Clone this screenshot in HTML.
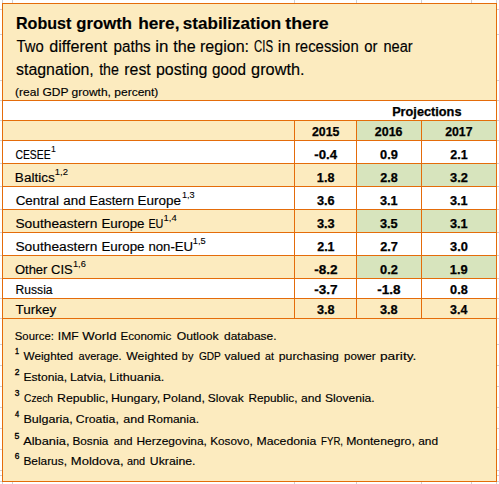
<!DOCTYPE html>
<html><head><meta charset="utf-8"><style>
html,body{margin:0;padding:0;background:#fff;}
body{width:499px;height:484px;overflow:hidden;position:relative;font-family:"Liberation Sans", sans-serif;}
</style></head><body>
<div style="position:absolute;left:2px;top:0px;width:1px;height:3px;background:#D0D0D4"></div>
<div style="position:absolute;left:2px;top:482px;width:1px;height:2px;background:#D0D0D4"></div>
<div style="position:absolute;left:12px;top:0px;width:1px;height:3px;background:#D0D0D4"></div>
<div style="position:absolute;left:12px;top:482px;width:1px;height:2px;background:#D0D0D4"></div>
<div style="position:absolute;left:294px;top:0px;width:1px;height:3px;background:#D0D0D4"></div>
<div style="position:absolute;left:294px;top:482px;width:1px;height:2px;background:#D0D0D4"></div>
<div style="position:absolute;left:356px;top:0px;width:1px;height:3px;background:#D0D0D4"></div>
<div style="position:absolute;left:356px;top:482px;width:1px;height:2px;background:#D0D0D4"></div>
<div style="position:absolute;left:421px;top:0px;width:1px;height:3px;background:#D0D0D4"></div>
<div style="position:absolute;left:421px;top:482px;width:1px;height:2px;background:#D0D0D4"></div>
<div style="position:absolute;left:471px;top:0px;width:1px;height:3px;background:#D0D0D4"></div>
<div style="position:absolute;left:471px;top:482px;width:1px;height:2px;background:#D0D0D4"></div>
<div style="position:absolute;left:496px;top:0px;width:1px;height:3px;background:#D0D0D4"></div>
<div style="position:absolute;left:496px;top:482px;width:1px;height:2px;background:#D0D0D4"></div>
<div style="position:absolute;left:0px;top:9px;width:2px;height:1px;background:#D0D0D4"></div>
<div style="position:absolute;left:497px;top:9px;width:2px;height:1px;background:#D0D0D4"></div>
<div style="position:absolute;left:0px;top:34px;width:2px;height:1px;background:#D0D0D4"></div>
<div style="position:absolute;left:497px;top:34px;width:2px;height:1px;background:#D0D0D4"></div>
<div style="position:absolute;left:0px;top:80px;width:2px;height:1px;background:#D0D0D4"></div>
<div style="position:absolute;left:497px;top:80px;width:2px;height:1px;background:#D0D0D4"></div>
<div style="position:absolute;left:0px;top:100px;width:2px;height:1px;background:#D0D0D4"></div>
<div style="position:absolute;left:497px;top:100px;width:2px;height:1px;background:#D0D0D4"></div>
<div style="position:absolute;left:0px;top:120px;width:2px;height:1px;background:#D0D0D4"></div>
<div style="position:absolute;left:497px;top:120px;width:2px;height:1px;background:#D0D0D4"></div>
<div style="position:absolute;left:0px;top:140px;width:2px;height:1px;background:#D0D0D4"></div>
<div style="position:absolute;left:497px;top:140px;width:2px;height:1px;background:#D0D0D4"></div>
<div style="position:absolute;left:0px;top:163px;width:2px;height:1px;background:#D0D0D4"></div>
<div style="position:absolute;left:497px;top:163px;width:2px;height:1px;background:#D0D0D4"></div>
<div style="position:absolute;left:0px;top:186px;width:2px;height:1px;background:#D0D0D4"></div>
<div style="position:absolute;left:497px;top:186px;width:2px;height:1px;background:#D0D0D4"></div>
<div style="position:absolute;left:0px;top:209px;width:2px;height:1px;background:#D0D0D4"></div>
<div style="position:absolute;left:497px;top:209px;width:2px;height:1px;background:#D0D0D4"></div>
<div style="position:absolute;left:0px;top:232px;width:2px;height:1px;background:#D0D0D4"></div>
<div style="position:absolute;left:497px;top:232px;width:2px;height:1px;background:#D0D0D4"></div>
<div style="position:absolute;left:0px;top:255px;width:2px;height:1px;background:#D0D0D4"></div>
<div style="position:absolute;left:497px;top:255px;width:2px;height:1px;background:#D0D0D4"></div>
<div style="position:absolute;left:0px;top:278px;width:2px;height:1px;background:#D0D0D4"></div>
<div style="position:absolute;left:497px;top:278px;width:2px;height:1px;background:#D0D0D4"></div>
<div style="position:absolute;left:0px;top:298px;width:2px;height:1px;background:#D0D0D4"></div>
<div style="position:absolute;left:497px;top:298px;width:2px;height:1px;background:#D0D0D4"></div>
<div style="position:absolute;left:0px;top:318px;width:2px;height:1px;background:#D0D0D4"></div>
<div style="position:absolute;left:497px;top:318px;width:2px;height:1px;background:#D0D0D4"></div>
<div style="position:absolute;left:0px;top:344px;width:2px;height:1px;background:#D0D0D4"></div>
<div style="position:absolute;left:497px;top:344px;width:2px;height:1px;background:#D0D0D4"></div>
<div style="position:absolute;left:0px;top:365px;width:2px;height:1px;background:#D0D0D4"></div>
<div style="position:absolute;left:497px;top:365px;width:2px;height:1px;background:#D0D0D4"></div>
<div style="position:absolute;left:0px;top:386px;width:2px;height:1px;background:#D0D0D4"></div>
<div style="position:absolute;left:497px;top:386px;width:2px;height:1px;background:#D0D0D4"></div>
<div style="position:absolute;left:0px;top:407px;width:2px;height:1px;background:#D0D0D4"></div>
<div style="position:absolute;left:497px;top:407px;width:2px;height:1px;background:#D0D0D4"></div>
<div style="position:absolute;left:0px;top:428px;width:2px;height:1px;background:#D0D0D4"></div>
<div style="position:absolute;left:497px;top:428px;width:2px;height:1px;background:#D0D0D4"></div>
<div style="position:absolute;left:0px;top:449px;width:2px;height:1px;background:#D0D0D4"></div>
<div style="position:absolute;left:497px;top:449px;width:2px;height:1px;background:#D0D0D4"></div>
<div style="position:absolute;left:0px;top:470px;width:2px;height:1px;background:#D0D0D4"></div>
<div style="position:absolute;left:497px;top:470px;width:2px;height:1px;background:#D0D0D4"></div>
<div style="position:absolute;left:0px;top:475px;width:2px;height:1px;background:#D0D0D4"></div>
<div style="position:absolute;left:497px;top:475px;width:2px;height:1px;background:#D0D0D4"></div>
<div style="position:absolute;left:0px;top:481px;width:2px;height:1px;background:#D0D0D4"></div>
<div style="position:absolute;left:497px;top:481px;width:2px;height:1px;background:#D0D0D4"></div>
<div style="position:absolute;left:2px;top:3px;width:495px;height:479px;background:#FCEBBF"></div>
<div style="position:absolute;left:2px;top:100px;width:494px;height:20px;background:#FFFFFF"></div>
<div style="position:absolute;left:2px;top:140px;width:494px;height:23px;background:#FFFFFF"></div>
<div style="position:absolute;left:2px;top:186px;width:494px;height:23px;background:#FFFFFF"></div>
<div style="position:absolute;left:2px;top:232px;width:494px;height:23px;background:#FFFFFF"></div>
<div style="position:absolute;left:2px;top:278px;width:494px;height:20px;background:#FFFFFF"></div>
<div style="position:absolute;left:356px;top:120px;width:140px;height:20px;background:#D7E4BD"></div>
<div style="position:absolute;left:356px;top:163px;width:140px;height:23px;background:#D7E4BD"></div>
<div style="position:absolute;left:356px;top:209px;width:140px;height:23px;background:#D7E4BD"></div>
<div style="position:absolute;left:356px;top:255px;width:140px;height:23px;background:#D7E4BD"></div>
<div style="position:absolute;left:2px;top:100px;width:495px;height:1px;background:#E46C0A"></div>
<div style="position:absolute;left:2px;top:120px;width:495px;height:1px;background:#E46C0A"></div>
<div style="position:absolute;left:2px;top:140px;width:495px;height:1px;background:#E46C0A"></div>
<div style="position:absolute;left:2px;top:163px;width:495px;height:1px;background:#E46C0A"></div>
<div style="position:absolute;left:2px;top:186px;width:495px;height:1px;background:#E46C0A"></div>
<div style="position:absolute;left:2px;top:209px;width:495px;height:1px;background:#E46C0A"></div>
<div style="position:absolute;left:2px;top:232px;width:495px;height:1px;background:#E46C0A"></div>
<div style="position:absolute;left:2px;top:255px;width:495px;height:1px;background:#E46C0A"></div>
<div style="position:absolute;left:2px;top:278px;width:495px;height:1px;background:#E46C0A"></div>
<div style="position:absolute;left:2px;top:298px;width:495px;height:1px;background:#E46C0A"></div>
<div style="position:absolute;left:2px;top:318px;width:495px;height:1px;background:#E46C0A"></div>
<div style="position:absolute;left:294px;top:120px;width:1px;height:199px;background:#E46C0A"></div>
<div style="position:absolute;left:356px;top:120px;width:1px;height:199px;background:#E46C0A"></div>
<div style="position:absolute;left:421px;top:120px;width:1px;height:199px;background:#E46C0A"></div>
<div style="position:absolute;left:2px;top:3px;width:495px;height:1px;background:#E46C0A"></div>
<div style="position:absolute;left:2px;top:481px;width:495px;height:1px;background:#E46C0A"></div>
<div style="position:absolute;left:2px;top:3px;width:1px;height:479px;background:#E46C0A"></div>
<div style="position:absolute;left:496px;top:3px;width:1px;height:479px;background:#E46C0A"></div>
<div style="position:absolute;left:15px;top:15px;font-size:16.5px;line-height:16.5px;font-weight:700;white-space:pre;transform:translateX(0.943px) scaleX(0.97513);transform-origin:0 0;color:#000;-webkit-text-stroke:0.15px #000">Robust</div>
<div style="position:absolute;left:76px;top:15px;font-size:16.5px;line-height:16.5px;font-weight:700;white-space:pre;transform:translateX(0.330px) scaleX(1.01206);transform-origin:0 0;color:#000;-webkit-text-stroke:0.15px #000">growth</div>
<div style="position:absolute;left:138px;top:15px;font-size:16.5px;line-height:16.5px;font-weight:700;white-space:pre;transform:translateX(0.180px) scaleX(1.04726);transform-origin:0 0;color:#000;-webkit-text-stroke:0.15px #000">here,</div>
<div style="position:absolute;left:182px;top:15px;font-size:16.5px;line-height:16.5px;font-weight:700;white-space:pre;transform:translateX(0.864px) scaleX(1.03218);transform-origin:0 0;color:#000;-webkit-text-stroke:0.15px #000">stabilization</div>
<div style="position:absolute;left:285px;top:15px;font-size:16.5px;line-height:16.5px;font-weight:700;white-space:pre;transform:translateX(0.217px) scaleX(1.07928);transform-origin:0 0;color:#000;-webkit-text-stroke:0.15px #000">there</div>
<div style="position:absolute;left:16px;top:39px;font-size:16px;line-height:16px;font-weight:400;white-space:pre;transform:translateX(0.574px) scaleX(0.92578);transform-origin:0 0;color:#000;-webkit-text-stroke:0.15px #000">Two</div>
<div style="position:absolute;left:49px;top:39px;font-size:16px;line-height:16px;font-weight:400;white-space:pre;transform:translateX(0.331px) scaleX(1.00687);transform-origin:0 0;color:#000;-webkit-text-stroke:0.15px #000">different</div>
<div style="position:absolute;left:113px;top:39px;font-size:16px;line-height:16px;font-weight:400;white-space:pre;transform:translateX(0.452px) scaleX(0.95277);transform-origin:0 0;color:#000;-webkit-text-stroke:0.15px #000">paths</div>
<div style="position:absolute;left:155px;top:39px;font-size:16px;line-height:16px;font-weight:400;white-space:pre;transform:translateX(0.353px) scaleX(1.05898);transform-origin:0 0;color:#000;-webkit-text-stroke:0.15px #000">in</div>
<div style="position:absolute;left:173px;top:39px;font-size:16px;line-height:16px;font-weight:400;white-space:pre;transform:translateX(0.264px) scaleX(1.00698);transform-origin:0 0;color:#000;-webkit-text-stroke:0.15px #000">the</div>
<div style="position:absolute;left:199px;top:39px;font-size:16px;line-height:16px;font-weight:400;white-space:pre;transform:translateX(0.924px) scaleX(1.00390);transform-origin:0 0;color:#000;-webkit-text-stroke:0.15px #000">region:</div>
<div style="position:absolute;left:254px;top:39px;font-size:16px;line-height:16px;font-weight:400;white-space:pre;transform:translateX(0.073px) scaleX(0.71210);transform-origin:0 0;color:#000;-webkit-text-stroke:0.15px #000">CIS</div>
<div style="position:absolute;left:277px;top:39px;font-size:16px;line-height:16px;font-weight:400;white-space:pre;transform:translateX(0.814px) scaleX(1.01436);transform-origin:0 0;color:#000;-webkit-text-stroke:0.15px #000">in</div>
<div style="position:absolute;left:294px;top:39px;font-size:16px;line-height:16px;font-weight:400;white-space:pre;transform:translateX(0.900px) scaleX(0.93115);transform-origin:0 0;color:#000;-webkit-text-stroke:0.15px #000">recession</div>
<div style="position:absolute;left:364px;top:39px;font-size:16px;line-height:16px;font-weight:400;white-space:pre;transform:translateX(0.227px) scaleX(0.92970);transform-origin:0 0;color:#000;-webkit-text-stroke:0.15px #000">or</div>
<div style="position:absolute;left:383px;top:39px;font-size:16px;line-height:16px;font-weight:400;white-space:pre;transform:translateX(0.445px) scaleX(0.91029);transform-origin:0 0;color:#000;-webkit-text-stroke:0.15px #000">near</div>
<div style="position:absolute;left:16px;top:62px;font-size:16px;line-height:16px;font-weight:400;white-space:pre;transform:translateX(0.020px) scaleX(0.99321);transform-origin:0 0;color:#000;-webkit-text-stroke:0.15px #000">stagnation,</div>
<div style="position:absolute;left:99px;top:62px;font-size:16px;line-height:16px;font-weight:400;white-space:pre;transform:translateX(0.156px) scaleX(0.88702);transform-origin:0 0;color:#000;-webkit-text-stroke:0.15px #000">the</div>
<div style="position:absolute;left:124px;top:62px;font-size:16px;line-height:16px;font-weight:400;white-space:pre;transform:translateX(0.321px) scaleX(0.99048);transform-origin:0 0;color:#000;-webkit-text-stroke:0.15px #000">rest</div>
<div style="position:absolute;left:155px;top:62px;font-size:16px;line-height:16px;font-weight:400;white-space:pre;transform:translateX(0.919px) scaleX(0.99734);transform-origin:0 0;color:#000;-webkit-text-stroke:0.15px #000">posting</div>
<div style="position:absolute;left:212px;top:62px;font-size:16px;line-height:16px;font-weight:400;white-space:pre;transform:translateX(0.097px) scaleX(0.95407);transform-origin:0 0;color:#000;-webkit-text-stroke:0.15px #000">good</div>
<div style="position:absolute;left:251px;top:62px;font-size:16px;line-height:16px;font-weight:400;white-space:pre;transform:translateX(0.105px) scaleX(1.01919);transform-origin:0 0;color:#000;-webkit-text-stroke:0.15px #000">growth.</div>
<div style="position:absolute;left:15px;top:87px;font-size:11.5px;line-height:11.5px;font-weight:400;white-space:pre;transform:translateX(0.042px) scaleX(1.04456);transform-origin:0 0;color:#000;-webkit-text-stroke:0.15px #000">(real GDP growth, percent)</div>
<div style="position:absolute;left:392px;top:106px;font-size:12px;line-height:12px;font-weight:700;white-space:pre;transform:translateX(0.128px) scaleX(1.06088);transform-origin:0 0;color:#000;-webkit-text-stroke:0.25px #000">Projections</div>
<div style="position:absolute;left:312px;top:126px;font-size:12px;line-height:12px;font-weight:700;white-space:pre;transform:translateX(0.000px) scaleX(1.02716);transform-origin:0 0;color:#000;-webkit-text-stroke:0.25px #000">2015</div>
<div style="position:absolute;left:374px;top:126px;font-size:12px;line-height:12px;font-weight:700;white-space:pre;transform:translateX(0.791px) scaleX(1.03724);transform-origin:0 0;color:#000;-webkit-text-stroke:0.25px #000">2016</div>
<div style="position:absolute;left:445px;top:126px;font-size:12px;line-height:12px;font-weight:700;white-space:pre;transform:translateX(0.247px) scaleX(1.02070);transform-origin:0 0;color:#000;-webkit-text-stroke:0.25px #000">2017</div>
<div style="position:absolute;left:15px;top:149px;font-size:12px;line-height:12px;font-weight:400;white-space:pre;transform:translateX(0.393px) scaleX(0.86522);transform-origin:0 0;color:#000;-webkit-text-stroke:0.15px #000">CESEE</div>
<div style="position:absolute;left:50px;top:145px;font-size:9px;line-height:9px;font-weight:400;white-space:pre;transform:translateX(0.992px) scaleX(0.96853);transform-origin:0 0;color:#000;-webkit-text-stroke:0.1px #000">1</div>
<div style="position:absolute;left:314px;top:149px;font-size:12px;line-height:12px;font-weight:700;white-space:pre;transform:translateX(0.225px) scaleX(1.10277);transform-origin:0 0;color:#000;-webkit-text-stroke:0.25px #000">-0.4</div>
<div style="position:absolute;left:380px;top:149px;font-size:12px;line-height:12px;font-weight:700;white-space:pre;transform:translateX(0.072px) scaleX(1.06338);transform-origin:0 0;color:#000;-webkit-text-stroke:0.25px #000">0.9</div>
<div style="position:absolute;left:450px;top:149px;font-size:12px;line-height:12px;font-weight:700;white-space:pre;transform:translateX(0.207px) scaleX(1.04101);transform-origin:0 0;color:#000;-webkit-text-stroke:0.25px #000">2.1</div>
<div style="position:absolute;left:14px;top:172px;font-size:12px;line-height:12px;font-weight:400;white-space:pre;transform:translateX(0.864px) scaleX(1.12642);transform-origin:0 0;color:#000;-webkit-text-stroke:0.15px #000">Baltics</div>
<div style="position:absolute;left:54px;top:168px;font-size:9px;line-height:9px;font-weight:400;white-space:pre;transform:translateX(0.720px) scaleX(1.05793);transform-origin:0 0;color:#000;-webkit-text-stroke:0.1px #000">1,2</div>
<div style="position:absolute;left:316px;top:172px;font-size:12px;line-height:12px;font-weight:700;white-space:pre;transform:translateX(0.860px) scaleX(1.05115);transform-origin:0 0;color:#000;-webkit-text-stroke:0.25px #000">1.8</div>
<div style="position:absolute;left:380px;top:172px;font-size:12px;line-height:12px;font-weight:700;white-space:pre;transform:translateX(0.208px) scaleX(1.04600);transform-origin:0 0;color:#000;-webkit-text-stroke:0.25px #000">2.8</div>
<div style="position:absolute;left:450px;top:172px;font-size:12px;line-height:12px;font-weight:700;white-space:pre;transform:translateX(0.019px) scaleX(1.06799);transform-origin:0 0;color:#000;-webkit-text-stroke:0.25px #000">3.2</div>
<div style="position:absolute;left:15px;top:195px;font-size:12px;line-height:12px;font-weight:400;white-space:pre;transform:translateX(0.635px) scaleX(1.12147);transform-origin:0 0;color:#000;-webkit-text-stroke:0.15px #000">Central</div>
<div style="position:absolute;left:63px;top:195px;font-size:12px;line-height:12px;font-weight:400;white-space:pre;transform:translateX(0.252px) scaleX(1.11469);transform-origin:0 0;color:#000;-webkit-text-stroke:0.15px #000">and</div>
<div style="position:absolute;left:89px;top:195px;font-size:12px;line-height:12px;font-weight:400;white-space:pre;transform:translateX(0.218px) scaleX(1.08507);transform-origin:0 0;color:#000;-webkit-text-stroke:0.15px #000">Eastern</div>
<div style="position:absolute;left:137px;top:195px;font-size:12px;line-height:12px;font-weight:400;white-space:pre;transform:translateX(0.585px) scaleX(1.12183);transform-origin:0 0;color:#000;-webkit-text-stroke:0.15px #000">Europe</div>
<div style="position:absolute;left:181px;top:191px;font-size:9px;line-height:9px;font-weight:400;white-space:pre;transform:translateX(0.977px) scaleX(1.01280);transform-origin:0 0;color:#000;-webkit-text-stroke:0.1px #000">1,3</div>
<div style="position:absolute;left:316px;top:195px;font-size:12px;line-height:12px;font-weight:700;white-space:pre;transform:translateX(0.940px) scaleX(1.06389);transform-origin:0 0;color:#000;-webkit-text-stroke:0.25px #000">3.6</div>
<div style="position:absolute;left:379px;top:195px;font-size:12px;line-height:12px;font-weight:700;white-space:pre;transform:translateX(0.902px) scaleX(1.06225);transform-origin:0 0;color:#000;-webkit-text-stroke:0.25px #000">3.1</div>
<div style="position:absolute;left:449px;top:195px;font-size:12px;line-height:12px;font-weight:700;white-space:pre;transform:translateX(0.902px) scaleX(1.06225);transform-origin:0 0;color:#000;-webkit-text-stroke:0.25px #000">3.1</div>
<div style="position:absolute;left:15px;top:218px;font-size:12px;line-height:12px;font-weight:400;white-space:pre;transform:translateX(0.402px) scaleX(1.14743);transform-origin:0 0;color:#000;-webkit-text-stroke:0.15px #000">Southeastern</div>
<div style="position:absolute;left:101px;top:218px;font-size:12px;line-height:12px;font-weight:400;white-space:pre;transform:translateX(0.447px) scaleX(1.11203);transform-origin:0 0;color:#000;-webkit-text-stroke:0.15px #000">Europe</div>
<div style="position:absolute;left:148px;top:218px;font-size:12px;line-height:12px;font-weight:400;white-space:pre;transform:translateX(0.422px) scaleX(0.89827);transform-origin:0 0;color:#000;-webkit-text-stroke:0.15px #000">EU</div>
<div style="position:absolute;left:163px;top:214px;font-size:9px;line-height:9px;font-weight:400;white-space:pre;transform:translateX(0.553px) scaleX(1.04773);transform-origin:0 0;color:#000;-webkit-text-stroke:0.1px #000">1,4</div>
<div style="position:absolute;left:316px;top:218px;font-size:12px;line-height:12px;font-weight:700;white-space:pre;transform:translateX(0.930px) scaleX(1.06468);transform-origin:0 0;color:#000;-webkit-text-stroke:0.25px #000">3.3</div>
<div style="position:absolute;left:379px;top:218px;font-size:12px;line-height:12px;font-weight:700;white-space:pre;transform:translateX(0.902px) scaleX(1.06352);transform-origin:0 0;color:#000;-webkit-text-stroke:0.25px #000">3.5</div>
<div style="position:absolute;left:449px;top:218px;font-size:12px;line-height:12px;font-weight:700;white-space:pre;transform:translateX(0.902px) scaleX(1.06225);transform-origin:0 0;color:#000;-webkit-text-stroke:0.25px #000">3.1</div>
<div style="position:absolute;left:15px;top:241px;font-size:12px;line-height:12px;font-weight:400;white-space:pre;transform:translateX(0.402px) scaleX(1.14743);transform-origin:0 0;color:#000;-webkit-text-stroke:0.15px #000">Southeastern</div>
<div style="position:absolute;left:101px;top:241px;font-size:12px;line-height:12px;font-weight:400;white-space:pre;transform:translateX(0.447px) scaleX(1.11203);transform-origin:0 0;color:#000;-webkit-text-stroke:0.15px #000">Europe</div>
<div style="position:absolute;left:148px;top:241px;font-size:12px;line-height:12px;font-weight:400;white-space:pre;transform:translateX(0.377px) scaleX(1.10021);transform-origin:0 0;color:#000;-webkit-text-stroke:0.15px #000">non-EU</div>
<div style="position:absolute;left:192px;top:237px;font-size:9px;line-height:9px;font-weight:400;white-space:pre;transform:translateX(0.783px) scaleX(1.03503);transform-origin:0 0;color:#000;-webkit-text-stroke:0.1px #000">1,5</div>
<div style="position:absolute;left:317px;top:241px;font-size:12px;line-height:12px;font-weight:700;white-space:pre;transform:translateX(0.213px) scaleX(1.03829);transform-origin:0 0;color:#000;-webkit-text-stroke:0.25px #000">2.1</div>
<div style="position:absolute;left:380px;top:241px;font-size:12px;line-height:12px;font-weight:700;white-space:pre;transform:translateX(0.189px) scaleX(1.05942);transform-origin:0 0;color:#000;-webkit-text-stroke:0.25px #000">2.7</div>
<div style="position:absolute;left:450px;top:241px;font-size:12px;line-height:12px;font-weight:700;white-space:pre;transform:translateX(0.019px) scaleX(1.06871);transform-origin:0 0;color:#000;-webkit-text-stroke:0.25px #000">3.0</div>
<div style="position:absolute;left:14px;top:264px;font-size:12px;line-height:12px;font-weight:400;white-space:pre;transform:translateX(0.906px) scaleX(1.08367);transform-origin:0 0;color:#000;-webkit-text-stroke:0.15px #000">Other CIS</div>
<div style="position:absolute;left:72px;top:260px;font-size:9px;line-height:9px;font-weight:400;white-space:pre;transform:translateX(0.945px) scaleX(1.03223);transform-origin:0 0;color:#000;-webkit-text-stroke:0.1px #000">1,6</div>
<div style="position:absolute;left:314px;top:264px;font-size:12px;line-height:12px;font-weight:700;white-space:pre;transform:translateX(0.147px) scaleX(1.13160);transform-origin:0 0;color:#000;-webkit-text-stroke:0.25px #000">-8.2</div>
<div style="position:absolute;left:380px;top:264px;font-size:12px;line-height:12px;font-weight:700;white-space:pre;transform:translateX(0.059px) scaleX(1.06684);transform-origin:0 0;color:#000;-webkit-text-stroke:0.25px #000">0.2</div>
<div style="position:absolute;left:449px;top:264px;font-size:12px;line-height:12px;font-weight:700;white-space:pre;transform:translateX(0.751px) scaleX(1.07304);transform-origin:0 0;color:#000;-webkit-text-stroke:0.25px #000">1.9</div>
<div style="position:absolute;left:15px;top:284px;font-size:12px;line-height:12px;font-weight:400;white-space:pre;transform:translateX(0.607px) scaleX(1.00827);transform-origin:0 0;color:#000;-webkit-text-stroke:0.15px #000">Russia</div>
<div style="position:absolute;left:314px;top:284px;font-size:12px;line-height:12px;font-weight:700;white-space:pre;transform:translateX(0.213px) scaleX(1.13145);transform-origin:0 0;color:#000;-webkit-text-stroke:0.25px #000">-3.7</div>
<div style="position:absolute;left:377px;top:284px;font-size:12px;line-height:12px;font-weight:700;white-space:pre;transform:translateX(0.271px) scaleX(1.12561);transform-origin:0 0;color:#000;-webkit-text-stroke:0.25px #000">-1.8</div>
<div style="position:absolute;left:450px;top:284px;font-size:12px;line-height:12px;font-weight:700;white-space:pre;transform:translateX(0.072px) scaleX(1.05907);transform-origin:0 0;color:#000;-webkit-text-stroke:0.25px #000">0.8</div>
<div style="position:absolute;left:15px;top:304px;font-size:12px;line-height:12px;font-weight:400;white-space:pre;transform:translateX(0.399px) scaleX(1.12543);transform-origin:0 0;color:#000;-webkit-text-stroke:0.15px #000">Turkey</div>
<div style="position:absolute;left:316px;top:304px;font-size:12px;line-height:12px;font-weight:700;white-space:pre;transform:translateX(0.931px) scaleX(1.05777);transform-origin:0 0;color:#000;-webkit-text-stroke:0.25px #000">3.8</div>
<div style="position:absolute;left:379px;top:304px;font-size:12px;line-height:12px;font-weight:700;white-space:pre;transform:translateX(0.902px) scaleX(1.06403);transform-origin:0 0;color:#000;-webkit-text-stroke:0.25px #000">3.8</div>
<div style="position:absolute;left:450px;top:304px;font-size:12px;line-height:12px;font-weight:700;white-space:pre;transform:translateX(0.024px) scaleX(1.03587);transform-origin:0 0;color:#000;-webkit-text-stroke:0.25px #000">3.4</div>
<div style="position:absolute;left:14px;top:331px;font-size:11.5px;line-height:11.5px;font-weight:400;white-space:pre;transform:translateX(0.795px) scaleX(0.98581);transform-origin:0 0;color:#000;-webkit-text-stroke:0.15px #000">Source:</div>
<div style="position:absolute;left:57px;top:331px;font-size:11.5px;line-height:11.5px;font-weight:400;white-space:pre;transform:translateX(0.797px) scaleX(1.05022);transform-origin:0 0;color:#000;-webkit-text-stroke:0.15px #000">IMF</div>
<div style="position:absolute;left:82px;top:331px;font-size:11.5px;line-height:11.5px;font-weight:400;white-space:pre;transform:translateX(0.314px) scaleX(1.14585);transform-origin:0 0;color:#000;-webkit-text-stroke:0.15px #000">World</div>
<div style="position:absolute;left:120px;top:331px;font-size:11.5px;line-height:11.5px;font-weight:400;white-space:pre;transform:translateX(0.394px) scaleX(1.00993);transform-origin:0 0;color:#000;-webkit-text-stroke:0.15px #000">Economic</div>
<div style="position:absolute;left:176px;top:331px;font-size:11.5px;line-height:11.5px;font-weight:400;white-space:pre;transform:translateX(0.657px) scaleX(1.05888);transform-origin:0 0;color:#000;-webkit-text-stroke:0.15px #000">Outlook</div>
<div style="position:absolute;left:224px;top:331px;font-size:11.5px;line-height:11.5px;font-weight:400;white-space:pre;transform:translateX(0.000px) scaleX(1.04000);transform-origin:0 0;color:#000;-webkit-text-stroke:0.15px #000">database.</div>
<div style="position:absolute;left:23px;top:351px;font-size:11.5px;line-height:11.5px;font-weight:400;white-space:pre;transform:translateX(0.546px) scaleX(1.02294);transform-origin:0 0;color:#000;-webkit-text-stroke:0.15px #000">Weighted</div>
<div style="position:absolute;left:78px;top:351px;font-size:11.5px;line-height:11.5px;font-weight:400;white-space:pre;transform:translateX(0.616px) scaleX(0.95767);transform-origin:0 0;color:#000;-webkit-text-stroke:0.15px #000">average.</div>
<div style="position:absolute;left:126px;top:351px;font-size:11.5px;line-height:11.5px;font-weight:400;white-space:pre;transform:translateX(0.286px) scaleX(1.06359);transform-origin:0 0;color:#000;-webkit-text-stroke:0.15px #000">Weighted</div>
<div style="position:absolute;left:181px;top:351px;font-size:11.5px;line-height:11.5px;font-weight:400;white-space:pre;transform:translateX(0.786px) scaleX(0.95385);transform-origin:0 0;color:#000;-webkit-text-stroke:0.15px #000">by</div>
<div style="position:absolute;left:198px;top:351px;font-size:11.5px;line-height:11.5px;font-weight:400;white-space:pre;transform:translateX(0.913px) scaleX(0.88098);transform-origin:0 0;color:#000;-webkit-text-stroke:0.15px #000">GDP</div>
<div style="position:absolute;left:224px;top:351px;font-size:11.5px;line-height:11.5px;font-weight:400;white-space:pre;transform:translateX(0.497px) scaleX(1.05327);transform-origin:0 0;color:#000;-webkit-text-stroke:0.15px #000">valued</div>
<div style="position:absolute;left:265px;top:351px;font-size:11.5px;line-height:11.5px;font-weight:400;white-space:pre;transform:translateX(0.000px) scaleX(0.91896);transform-origin:0 0;color:#000;-webkit-text-stroke:0.15px #000">at</div>
<div style="position:absolute;left:278px;top:351px;font-size:11.5px;line-height:11.5px;font-weight:400;white-space:pre;transform:translateX(0.773px) scaleX(1.06968);transform-origin:0 0;color:#000;-webkit-text-stroke:0.15px #000">purchasing</div>
<div style="position:absolute;left:344px;top:351px;font-size:11.5px;line-height:11.5px;font-weight:400;white-space:pre;transform:translateX(0.063px) scaleX(1.00634);transform-origin:0 0;color:#000;-webkit-text-stroke:0.15px #000">power</div>
<div style="position:absolute;left:379px;top:351px;font-size:11.5px;line-height:11.5px;font-weight:400;white-space:pre;transform:translateX(0.948px) scaleX(1.19575);transform-origin:0 0;color:#000;-webkit-text-stroke:0.15px #000">parity.</div>
<div style="position:absolute;left:15px;top:347px;font-size:8.5px;line-height:8.5px;font-weight:400;white-space:pre;transform:translateX(0.000px) scaleX(0.85514);transform-origin:0 0;color:#000;-webkit-text-stroke:0.35px #000">1</div>
<div style="position:absolute;left:23px;top:372px;font-size:11.5px;line-height:11.5px;font-weight:400;white-space:pre;transform:translateX(0.452px) scaleX(1.05290);transform-origin:0 0;color:#000;-webkit-text-stroke:0.15px #000">Estonia,</div>
<div style="position:absolute;left:69px;top:372px;font-size:11.5px;line-height:11.5px;font-weight:400;white-space:pre;transform:translateX(0.898px) scaleX(1.07138);transform-origin:0 0;color:#000;-webkit-text-stroke:0.15px #000">Latvia,</div>
<div style="position:absolute;left:109px;top:372px;font-size:11.5px;line-height:11.5px;font-weight:400;white-space:pre;transform:translateX(0.306px) scaleX(1.10467);transform-origin:0 0;color:#000;-webkit-text-stroke:0.15px #000">Lithuania.</div>
<div style="position:absolute;left:14px;top:368px;font-size:8.5px;line-height:8.5px;font-weight:400;white-space:pre;transform:translateX(0.800px) scaleX(1.00000);transform-origin:0 0;color:#000;-webkit-text-stroke:0.35px #000">2</div>
<div style="position:absolute;left:24px;top:393px;font-size:11.5px;line-height:11.5px;font-weight:400;white-space:pre;transform:translateX(0.000px) scaleX(0.88921);transform-origin:0 0;color:#000;-webkit-text-stroke:0.15px #000">Czech</div>
<div style="position:absolute;left:56px;top:393px;font-size:11.5px;line-height:11.5px;font-weight:400;white-space:pre;transform:translateX(0.983px) scaleX(1.07272);transform-origin:0 0;color:#000;-webkit-text-stroke:0.15px #000">Republic,</div>
<div style="position:absolute;left:110px;top:393px;font-size:11.5px;line-height:11.5px;font-weight:400;white-space:pre;transform:translateX(0.943px) scaleX(1.07286);transform-origin:0 0;color:#000;-webkit-text-stroke:0.15px #000">Hungary,</div>
<div style="position:absolute;left:162px;top:393px;font-size:11.5px;line-height:11.5px;font-weight:400;white-space:pre;transform:translateX(0.828px) scaleX(1.07824);transform-origin:0 0;color:#000;-webkit-text-stroke:0.15px #000">Poland,</div>
<div style="position:absolute;left:207px;top:393px;font-size:11.5px;line-height:11.5px;font-weight:400;white-space:pre;transform:translateX(0.768px) scaleX(1.03838);transform-origin:0 0;color:#000;-webkit-text-stroke:0.15px #000">Slovak</div>
<div style="position:absolute;left:248px;top:393px;font-size:11.5px;line-height:11.5px;font-weight:400;white-space:pre;transform:translateX(0.396px) scaleX(1.02478);transform-origin:0 0;color:#000;-webkit-text-stroke:0.15px #000">Republic,</div>
<div style="position:absolute;left:300px;top:393px;font-size:11.5px;line-height:11.5px;font-weight:400;white-space:pre;transform:translateX(0.900px) scaleX(1.05393);transform-origin:0 0;color:#000;-webkit-text-stroke:0.15px #000">and</div>
<div style="position:absolute;left:324px;top:393px;font-size:11.5px;line-height:11.5px;font-weight:400;white-space:pre;transform:translateX(0.984px) scaleX(1.05078);transform-origin:0 0;color:#000;-webkit-text-stroke:0.15px #000">Slovenia.</div>
<div style="position:absolute;left:14px;top:389px;font-size:8.5px;line-height:8.5px;font-weight:400;white-space:pre;transform:translateX(0.695px) scaleX(0.99165);transform-origin:0 0;color:#000;-webkit-text-stroke:0.35px #000">3</div>
<div style="position:absolute;left:23px;top:414px;font-size:11.5px;line-height:11.5px;font-weight:400;white-space:pre;transform:translateX(0.382px) scaleX(1.08838);transform-origin:0 0;color:#000;-webkit-text-stroke:0.15px #000">Bulgaria,</div>
<div style="position:absolute;left:75px;top:414px;font-size:11.5px;line-height:11.5px;font-weight:400;white-space:pre;transform:translateX(0.826px) scaleX(1.06701);transform-origin:0 0;color:#000;-webkit-text-stroke:0.15px #000">Croatia,</div>
<div style="position:absolute;left:123px;top:414px;font-size:11.5px;line-height:11.5px;font-weight:400;white-space:pre;transform:translateX(0.221px) scaleX(1.08910);transform-origin:0 0;color:#000;-webkit-text-stroke:0.15px #000">and</div>
<div style="position:absolute;left:147px;top:414px;font-size:11.5px;line-height:11.5px;font-weight:400;white-space:pre;transform:translateX(0.482px) scaleX(1.04710);transform-origin:0 0;color:#000;-webkit-text-stroke:0.15px #000">Romania.</div>
<div style="position:absolute;left:14px;top:410px;font-size:8.5px;line-height:8.5px;font-weight:400;white-space:pre;transform:translateX(0.947px) scaleX(0.88242);transform-origin:0 0;color:#000;-webkit-text-stroke:0.35px #000">4</div>
<div style="position:absolute;left:23px;top:436px;font-size:11.5px;line-height:11.5px;font-weight:400;white-space:pre;transform:translateX(0.232px) scaleX(1.11295);transform-origin:0 0;color:#000;-webkit-text-stroke:0.15px #000">Albania,</div>
<div style="position:absolute;left:72px;top:436px;font-size:11.5px;line-height:11.5px;font-weight:400;white-space:pre;transform:translateX(0.396px) scaleX(1.02395);transform-origin:0 0;color:#000;-webkit-text-stroke:0.15px #000">Bosnia</div>
<div style="position:absolute;left:113px;top:436px;font-size:11.5px;line-height:11.5px;font-weight:400;white-space:pre;transform:translateX(0.700px) scaleX(0.97395);transform-origin:0 0;color:#000;-webkit-text-stroke:0.15px #000">and</div>
<div style="position:absolute;left:136px;top:436px;font-size:11.5px;line-height:11.5px;font-weight:400;white-space:pre;transform:translateX(0.488px) scaleX(1.03935);transform-origin:0 0;color:#000;-webkit-text-stroke:0.15px #000">Herzegovina,</div>
<div style="position:absolute;left:210px;top:436px;font-size:11.5px;line-height:11.5px;font-weight:400;white-space:pre;transform:translateX(0.209px) scaleX(1.02220);transform-origin:0 0;color:#000;-webkit-text-stroke:0.15px #000">Kosovo,</div>
<div style="position:absolute;left:256px;top:436px;font-size:11.5px;line-height:11.5px;font-weight:400;white-space:pre;transform:translateX(0.457px) scaleX(1.06420);transform-origin:0 0;color:#000;-webkit-text-stroke:0.15px #000">Macedonia</div>
<div style="position:absolute;left:321px;top:436px;font-size:11.5px;line-height:11.5px;font-weight:400;white-space:pre;transform:translateX(0.112px) scaleX(0.83546);transform-origin:0 0;color:#000;-webkit-text-stroke:0.15px #000">FYR,</div>
<div style="position:absolute;left:346px;top:436px;font-size:11.5px;line-height:11.5px;font-weight:400;white-space:pre;transform:translateX(0.144px) scaleX(1.06324);transform-origin:0 0;color:#000;-webkit-text-stroke:0.15px #000">Montenegro,</div>
<div style="position:absolute;left:418px;top:436px;font-size:11.5px;line-height:11.5px;font-weight:400;white-space:pre;transform:translateX(0.245px) scaleX(1.03131);transform-origin:0 0;color:#000;-webkit-text-stroke:0.15px #000">and</div>
<div style="position:absolute;left:14px;top:432px;font-size:8.5px;line-height:8.5px;font-weight:400;white-space:pre;transform:translateX(0.582px) scaleX(1.01764);transform-origin:0 0;color:#000;-webkit-text-stroke:0.35px #000">5</div>
<div style="position:absolute;left:23px;top:456px;font-size:11.5px;line-height:11.5px;font-weight:400;white-space:pre;transform:translateX(0.382px) scaleX(1.03227);transform-origin:0 0;color:#000;-webkit-text-stroke:0.15px #000">Belarus,</div>
<div style="position:absolute;left:70px;top:456px;font-size:11.5px;line-height:11.5px;font-weight:400;white-space:pre;transform:translateX(0.848px) scaleX(1.13310);transform-origin:0 0;color:#000;-webkit-text-stroke:0.15px #000">Moldova,</div>
<div style="position:absolute;left:127px;top:456px;font-size:11.5px;line-height:11.5px;font-weight:400;white-space:pre;transform:translateX(0.000px) scaleX(0.94737);transform-origin:0 0;color:#000;-webkit-text-stroke:0.15px #000">and</div>
<div style="position:absolute;left:149px;top:456px;font-size:11.5px;line-height:11.5px;font-weight:400;white-space:pre;transform:translateX(0.840px) scaleX(1.06510);transform-origin:0 0;color:#000;-webkit-text-stroke:0.15px #000">Ukraine.</div>
<div style="position:absolute;left:14px;top:452px;font-size:8.5px;line-height:8.5px;font-weight:400;white-space:pre;transform:translateX(0.646px) scaleX(0.97563);transform-origin:0 0;color:#000;-webkit-text-stroke:0.35px #000">6</div>
</body></html>
